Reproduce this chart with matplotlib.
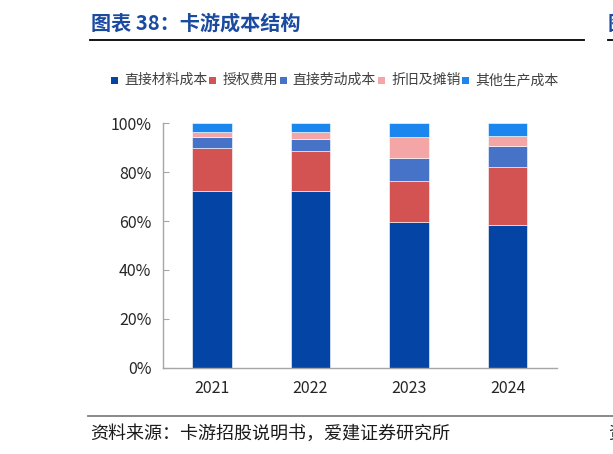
import matplotlib
matplotlib.use("Agg")
import matplotlib.pyplot as plt
from matplotlib.patches import Rectangle
from matplotlib.lines import Line2D

plt.rcParams['font.family'] = ['Noto Sans CJK SC', 'DejaVu Sans']

years = ['2021', '2022', '2023', '2024']
series_names = ['直接材料成本', '授权费用', '直接劳动成本', '折旧及摊销', '其他生产成本']
direct_material = [72.5, 72.2, 59.7, 58.5]
license_fee = [17.4, 16.4, 16.8, 23.6]
direct_labor = [4.3, 4.8, 9.3, 8.7]
depreciation = [2.1, 2.9, 8.7, 4.0]
other_cost = [3.7, 3.7, 5.5, 5.2]
series_values = [direct_material, license_fee, direct_labor, depreciation, other_cost]
colors = ['#0444a4', '#d25352', '#4673c8', '#f4a6a6', '#1a86ee']
yticks = [0, 20, 40, 60, 80, 100]
ytick_labels = ['0%', '20%', '40%', '60%', '80%', '100%']

W, H = 613, 454
fig = plt.figure(figsize=(W / 100, H / 100), dpi=100)
ax = fig.add_axes([162.5 / W, 1 - 367.7 / H, (557 - 162.5) / W, (367.7 - 123.3) / H])

x = range(len(years))
bottom = [0.0] * len(years)
for name, vals, c in zip(series_names, series_values, colors):
    ax.bar(x, vals, width=0.4, bottom=bottom, color=c, edgecolor='white', linewidth=0.4, label=name)
    bottom = [b + v for b, v in zip(bottom, vals)]

ax.set_xlim(-0.5, len(years) - 0.5)
ax.set_ylim(0, 100)
ax.set_yticks(yticks)
ax.set_yticklabels(ytick_labels)
ax.set_xticks(list(x))
ax.set_xticklabels(years)
for s in ['top', 'right']:
    ax.spines[s].set_visible(False)
for s in ['left', 'bottom']:
    ax.spines[s].set_color('#a6a6a6')
    ax.spines[s].set_linewidth(1.0)
ax.tick_params(axis='y', direction='in', length=4, color='#a6a6a6', labelsize=11.5, labelcolor='#262626', pad=8)
ax.tick_params(axis='x', length=0, labelsize=11.5, labelcolor='#262626', pad=9)

# Title
fig.text(91 / W, 1 - 23 / H, '图表 38：卡游成本结构', fontsize=14.5, fontweight='bold', color='#1a4ba0',
         ha='left', va='center')
fig.text(608 / W, 1 - 23 / H, '图', fontsize=14.5, fontweight='bold', color='#1a4ba0', ha='left', va='center')
fig.add_artist(Line2D([90 / W, 584 / W], [1 - 40 / H, 1 - 40 / H], color='black', lw=1.3))
fig.add_artist(Line2D([608 / W, 1.0], [1 - 40 / H, 1 - 40 / H], color='black', lw=1.3))

# Source
fig.add_artist(Line2D([88 / W, 1.0], [1 - 416 / H, 1 - 416 / H], color='#7f7f7f', lw=1.3))
fig.text(90 / W, 1 - 434 / H, '资料来源：卡游招股说明书，爱建证券研究所', fontsize=13, color='#1a1a1a',
         ha='left', va='center')
fig.text(608 / W, 1 - 434 / H, '资', fontsize=13, color='#1a1a1a', ha='left', va='center')

# Legend (manual)
fig.canvas.draw()
renderer = fig.canvas.get_renderer()
xpos = 111.0
ly = 80.0
for name, c in zip(series_names, colors):
    fig.add_artist(Rectangle((xpos / W, 1 - (ly + 3.5) / H), 7 / W, 7 / H, transform=fig.transFigure,
                             color=c, lw=0))
    t = fig.text((xpos + 13) / W, 1 - ly / H, name, fontsize=10, color='#404040', ha='left', va='center')
    bb = t.get_window_extent(renderer=renderer)
    xpos = bb.x1 + 2

fig.savefig('out.png', dpi=100)
